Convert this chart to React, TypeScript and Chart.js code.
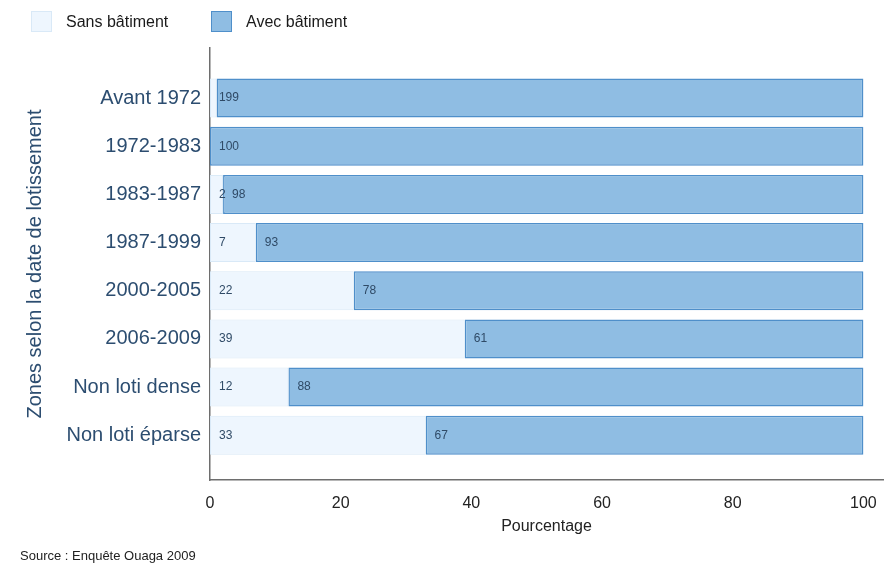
import React, { useEffect, useRef } from "react";
import { Chart, registerables } from "chart.js";

Chart.register(...registerables);

const categories = [
  "Avant 1972",
  "1972-1983",
  "1983-1987",
  "1987-1999",
  "2000-2005",
  "2006-2009",
  "Non loti dense",
  "Non loti éparse",
];
const sansBatiment = [1, 0, 2, 7, 22, 39, 12, 33];
const avecBatiment = [99, 100, 98, 93, 78, 61, 88, 67];
const xTicks = [0, 20, 40, 60, 80, 100];
const seriesNames = ["Sans bâtiment", "Avec bâtiment"];
const yTitle = "Zones selon la date de lotissement";
const xTitle = "Pourcentage";
const sourceText = "Source : Enquête Ouaga 2009";

const FONT = "'Liberation Sans', Arial, Helvetica, sans-serif";
const LABEL_BLUE = "#2c4d70";

const valueLabels = {
  id: "valueLabels",
  afterDatasetsDraw(chart: any) {
    const ctx = chart.ctx;
    ctx.save();
    ctx.font = `12px ${FONT}`;
    ctx.fillStyle = "#2f4a66";
    ctx.textAlign = "left";
    ctx.textBaseline = "middle";
    chart.data.datasets.forEach((ds: any, di: number) => {
      const meta = chart.getDatasetMeta(di);
      meta.data.forEach((el: any, i: number) => {
        const v = ds.data[i].x;
        if (!v) return;
        const start = Math.min(el.x, el.base);
        ctx.fillText(String(v), start + 9, el.y);
      });
    });
    ctx.restore();
  },
};

const legendAndSource = {
  id: "legendAndSource",
  afterDraw(chart: any) {
    const ctx = chart.ctx;
    ctx.save();
    const boxX = [31, 211];
    chart.data.datasets.forEach((ds: any, i: number) => {
      const x = boxX[i];
      ctx.fillStyle = ds.backgroundColor;
      ctx.fillRect(x, 11, 21, 21);
      ctx.strokeStyle = ds.borderColor;
      ctx.lineWidth = 1;
      ctx.strokeRect(x + 0.5, 11.5, 20, 20);
      ctx.fillStyle = "#1a1a1a";
      ctx.font = `16px ${FONT}`;
      ctx.textAlign = "left";
      ctx.textBaseline = "middle";
      ctx.fillText(ds.label, x + 35, 23);
    });
    ctx.font = `13px ${FONT}`;
    ctx.fillStyle = "#222";
    ctx.textBaseline = "middle";
    ctx.fillText(sourceText, 20, 556);
    ctx.restore();
  },
};

export default function App() {
  const ref = useRef<HTMLCanvasElement | null>(null);

  useEffect(() => {
    if (!ref.current) return;
    const chart = new Chart(ref.current, {
      type: "bar",
      data: {
        datasets: [
          {
            label: seriesNames[0],
            data: sansBatiment.map((v, i) => ({ x: v, y: i })),
            backgroundColor: "#eef6fe",
            borderColor: "#d9e9f7",
            borderWidth: 1,
            borderSkipped: false,
            barPercentage: 0.81,
            categoryPercentage: 1,
          },
          {
            label: seriesNames[1],
            data: avecBatiment.map((v, i) => ({ x: v, y: i })),
            backgroundColor: "#8fbde3",
            borderColor: "#4f8fca",
            borderWidth: 1.5,
            borderSkipped: false,
            barPercentage: 0.81,
            categoryPercentage: 1,
          },
        ],
      },
      options: {
        indexAxis: "y",
        responsive: false,
        animation: false,
        layout: { padding: { top: 48, right: 2, bottom: 44, left: 0 } },
        plugins: {
          legend: { display: false },
          tooltip: { enabled: false },
        },
        scales: {
          x: {
            type: "linear",
            stacked: true,
            offset: false,
            min: 0,
            max: 103,
            afterBuildTicks: (scale: any) => {
              scale.ticks = xTicks.map((v) => ({ value: v }));
            },
            afterFit: (scale: any) => {
              scale.height = 60;
              scale.paddingLeft = 0;
              scale.paddingRight = 0;
            },
            grid: { display: false, drawTicks: false },
            border: { display: true, color: "#6e6e6e", width: 1.5 },
            ticks: {
              padding: 14,
              color: "#222",
              font: { family: FONT, size: 16 },
              maxRotation: 0,
            },
            title: {
              display: true,
              text: xTitle,
              color: "#222",
              font: { family: FONT, size: 16 },
              padding: { top: 0, bottom: 4 },
            },
          },
          y: {
            type: "linear",
            stacked: true,
            offset: false,
            reverse: true,
            min: -1.04,
            max: 7.93,
            afterBuildTicks: (scale: any) => {
              scale.ticks = categories.map((_, i) => ({ value: i }));
            },
            afterFit: (scale: any) => {
              scale.width = 210;
              scale.paddingTop = 0;
              scale.paddingBottom = 0;
            },
            grid: { display: false, drawTicks: false },
            border: { display: true, color: "#6e6e6e", width: 1.5 },
            ticks: {
              autoSkip: false,
              padding: 9,
              color: LABEL_BLUE,
              font: { family: FONT, size: 20 },
              callback: (v: any) => categories[v] ?? "",
            },
            title: {
              display: true,
              text: yTitle,
              color: LABEL_BLUE,
              font: { family: FONT, size: 20 },
              padding: { top: 23, bottom: 0 },
            },
          },
        },
      },
      plugins: [valueLabels, legendAndSource],
    } as any);
    return () => chart.destroy();
  }, []);

  return (
    <div style={{ position: "absolute", left: 0, top: 0, width: 885, height: 584, background: "#fff" }}>
      <canvas ref={ref} width={885} height={584} />
    </div>
  );
}
